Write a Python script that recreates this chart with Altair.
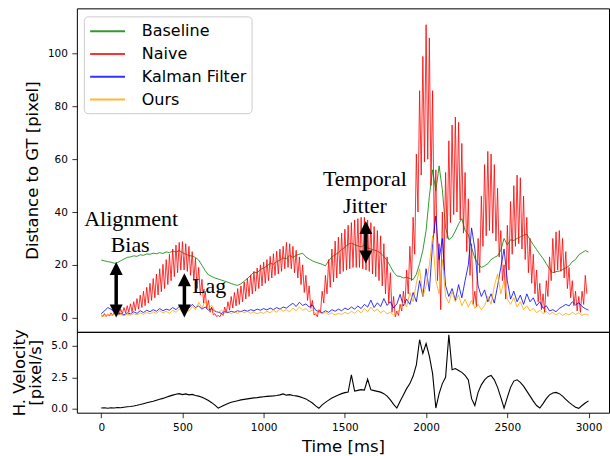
import altair as alt
import pandas as pd

# ---------------- data ----------------
series_names = ["Baseline", "Naive", "Kalman Filter", "Ours"]
series_colors = ["#008000", "#ff0000", "#0000ff", "#ffa500"]

step_ms = 20  # sampling step of the series below (ms)

baseline = [
    21.8, 21.5, 21.2, 21.0, 20.6, 20.8, 21.5, 22.2, 22.8, 23.0,
    23.4, 23.2, 23.8, 23.6, 24.1, 24.0, 24.4, 24.2, 24.6, 24.3,
    24.9, 24.6, 25.2, 24.8, 25.4, 24.6, 24.0, 23.5, 23.3, 22.8,
    21.8, 19.8, 17.8, 16.2, 15.6, 15.0, 14.6, 14.2, 13.8, 13.4,
    12.9, 12.5, 12.2, 12.8, 13.8, 14.8, 16.0, 17.2, 17.0, 18.2,
    18.8, 19.5, 20.6, 20.2, 21.2, 21.8, 22.6, 22.3, 23.5, 22.8,
    23.6, 24.0, 24.4, 23.0, 22.2, 21.5, 21.0, 20.6, 20.2, 19.6,
    21.5, 23.0, 23.8, 24.6, 25.8, 26.6, 27.8, 28.2, 27.6, 27.2,
    26.8, 27.5, 26.4, 26.0, 25.6, 25.2, 24.4, 23.2, 21.6, 19.4,
    17.2, 15.8, 15.6, 15.0, 15.3, 14.8, 14.4, 16.4, 20.5, 25.5,
    33.0, 46.0, 56.0, 48.0, 57.5, 48.5, 34.0, 29.5, 30.5, 32.8,
    35.5, 37.5, 33.0, 31.5, 26.5, 22.5, 20.4, 19.0, 19.6, 20.4,
    22.0, 22.8, 23.4, 25.5, 30.0, 27.5, 29.5, 29.2, 30.0, 30.6,
    31.2, 31.6, 29.5, 27.6, 25.8, 24.0, 22.4, 20.4, 18.4, 17.0,
    17.4, 17.6, 18.2, 18.8, 19.6, 21.2, 22.0, 23.8, 24.6, 25.4,
    24.8,
]

# Naive: frame-to-frame zig-zag; peaks at t = 0, 20, 40 ... and troughs at t = 10, 30, 50 ...
naive_peaks = [
    1.0, 1.5, 1.2, 1.8, 2.0, 2.5, 3.2, 3.8, 4.5, 5.2,
    6.0, 7.2, 8.5, 10.0, 11.5, 13.0, 14.8, 16.5, 18.5, 20.2,
    22.0, 24.0, 26.0, 27.5, 28.5, 28.8, 28.0, 27.0, 25.0, 22.5,
    19.0, 14.5, 10.0, 6.5, 4.0, 1.5, 0.8, 1.5, 4.0, 6.0,
    8.0, 9.5, 11.0, 12.0, 13.5, 15.0, 16.2, 17.5, 18.8, 20.0,
    21.0, 22.0, 23.2, 24.2, 25.2, 26.0, 27.0, 28.5, 28.0, 27.0,
    25.5, 23.0, 20.0, 16.0, 12.0, 6.5, 1.5, 3.0, 10.0, 16.0,
    22.0, 26.0, 29.0, 30.5, 32.0, 33.5, 35.0, 36.0, 37.0, 37.5,
    38.0, 38.0, 37.0, 36.0, 34.5, 33.0, 31.0, 28.0, 23.0, 17.0,
    8.0, 2.5, 5.0, 10.0, 18.0, 27.0, 38.0, 62.0, 86.0, 99.0,
    111.0, 106.0, 86.0, 56.0, 28.0, 40.0, 55.0, 67.0, 73.0, 76.0,
    74.0, 66.0, 55.0, 45.0, 28.0, 10.0, 30.0, 46.0, 58.0, 63.0,
    62.0, 58.0, 49.0, 33.0, 20.0, 35.0, 44.0, 50.0, 54.0, 53.0,
    46.0, 38.0, 30.0, 24.0, 18.0, 13.0, 9.0, 14.0, 23.0, 30.0,
    32.5, 33.0, 30.0, 25.0, 19.0, 14.0, 10.0, 8.0, 10.0, 16.0,
]
naive_troughs = [
    0.5, 0.4, 0.6, 0.8, 1.0, 1.2, 1.5, 1.8, 2.0, 2.2,
    2.6, 3.2, 3.8, 4.5, 5.5, 6.5, 7.5, 8.6, 9.8, 11.0,
    12.5, 14.0, 15.5, 17.0, 18.0, 18.0, 17.5, 16.0, 14.0, 11.0,
    8.5, 5.5, 3.5, 2.0, 1.0, 0.4, 0.3, 0.8, 1.8, 2.8,
    3.6, 4.4, 5.0, 6.0, 7.0, 8.0, 9.0, 10.0, 11.0, 12.0,
    13.0, 14.0, 15.0, 16.0, 16.5, 17.5, 18.5, 19.0, 18.5, 17.0,
    15.0, 12.5, 9.5, 6.5, 3.5, 1.0, 0.3, 2.0, 5.5, 9.0,
    11.5, 13.5, 15.0, 16.5, 17.5, 18.0, 18.5, 19.0, 19.0, 19.0,
    18.5, 18.0, 17.5, 16.5, 15.5, 14.0, 12.0, 9.0, 5.5, 2.0,
    0.3, 0.8, 2.5, 5.0, 9.0, 14.0, 24.0, 40.0, 54.0, 59.0,
    60.0, 50.0, 32.0, 14.0, 3.0, 18.0, 30.0, 36.0, 39.0, 40.0,
    37.0, 32.0, 25.0, 16.0, 5.0, 4.0, 17.0, 27.0, 31.0, 33.0,
    32.0, 29.0, 23.0, 14.0, 7.0, 18.0, 24.0, 27.0, 28.0, 26.0,
    22.0, 17.0, 13.0, 9.0, 6.0, 3.0, 2.0, 8.0, 14.0, 17.0,
    18.0, 17.5, 15.0, 11.0, 7.5, 4.5, 2.5, 2.0, 5.0, 9.0,
]

kalman = [
    1.5, 2.5, 3.8, 3.2, 2.0, 1.2, 1.6, 1.0, 1.8, 1.4,
    2.2, 1.6, 2.6, 1.9, 2.8, 2.2, 3.0, 2.4, 3.4, 2.6,
    3.2, 2.8, 3.8, 3.0, 4.2, 3.4, 4.6, 3.6, 5.0, 3.8,
    4.4, 3.2, 4.0, 2.8, 3.4, 2.4, 2.0, 1.6, 2.2, 1.8,
    2.4, 2.0, 2.6, 2.2, 2.8, 2.4, 3.0, 2.6, 3.2, 2.8,
    3.4, 2.9, 3.6, 3.0, 3.8, 3.2, 4.0, 3.6, 4.6, 5.4,
    4.2, 5.8, 4.6, 5.2, 4.0, 4.8, 2.8, 2.2, 1.8, 2.6,
    2.0, 3.0, 2.4, 3.2, 2.6, 3.6, 3.0, 4.0, 3.2, 4.4,
    3.4, 5.0, 4.0, 6.6, 3.8, 5.6, 4.2, 7.2, 4.6, 6.0,
    3.6, 5.2, 8.8, 4.4, 7.0, 5.0, 9.5, 6.0, 14.0, 8.0,
    18.5, 10.0, 28.0, 38.5, 22.0, 30.0, 12.0, 8.0, 11.0, 6.5,
    12.5, 7.5, 14.0, 20.0, 34.0, 26.0, 12.0, 8.0, 10.5, 6.0,
    9.0, 5.5, 12.0, 19.0, 26.0, 14.0, 7.0, 10.0, 6.0, 8.5,
    5.0, 9.0, 6.0, 7.5, 4.5, 6.0, 3.5, 4.5, 2.5, 3.0,
    2.2, 3.5, 4.2, 5.0, 4.4, 6.0, 4.8, 5.6, 4.2, 3.4,
    2.8,
]

ours = [
    0.3, 0.6, 1.2, 0.8, 1.4, 0.9, 1.2, 0.7, 1.3, 0.9,
    1.5, 1.0, 1.8, 1.2, 2.0, 1.4, 2.2, 1.6, 2.6, 1.8,
    2.4, 1.6, 2.8, 2.0, 3.2, 2.2, 3.6, 2.4, 4.2, 3.0,
    5.8, 3.6, 6.2, 3.4, 4.6, 2.6, 2.0, 2.8, 1.6, 2.4,
    1.4, 2.2, 1.6, 2.6, 1.8, 2.4, 1.6, 2.2, 1.4, 2.0,
    1.6, 2.4, 1.8, 2.8, 2.0, 3.4, 2.4, 3.0, 2.2, 3.6,
    2.6, 4.0, 2.8, 3.4, 2.2, 2.8, 1.6, 2.2, 1.4, 2.0,
    1.2, 1.8, 1.0, 1.6, 1.2, 2.0, 1.4, 2.4, 1.6, 2.8,
    1.8, 3.4, 2.2, 4.0, 2.4, 3.2, 1.8, 2.6, 1.4, 2.0,
    1.0, 1.6, 3.5, 6.0, 4.0, 9.5, 6.0, 13.0, 18.5, 8.0,
    12.0, 20.0, 31.0, 14.0, 9.0, 22.0, 8.0, 5.5, 10.0, 6.0,
    8.5, 4.5, 7.0, 4.0, 6.5, 3.5, 5.0, 3.0, 4.5, 8.0,
    5.0, 12.0, 16.5, 9.0, 14.0, 7.0, 5.0, 7.5, 4.0, 6.0,
    3.0, 4.5, 2.5, 3.5, 1.8, 2.8, 1.5, 2.4, 1.2, 2.0,
    1.0, 1.8, 0.8, 1.6, 1.0, 2.0, 1.2, 1.8, 0.8, 1.4,
    1.0,
]

velocity = [
    0.05, 0.08, 0.04, 0.07, 0.05, 0.09, 0.08, 0.12, 0.15, 0.18,
    0.22, 0.27, 0.33, 0.40, 0.47, 0.54, 0.60, 0.68, 0.75, 0.82,
    0.92, 1.00, 1.08, 1.15, 1.20, 1.12, 1.18, 1.10, 1.14, 1.05,
    1.00, 0.92, 0.80, 0.65, 0.48, 0.28, 0.04, 0.18, 0.30, 0.42,
    0.52, 0.58, 0.64, 0.70, 0.74, 0.78, 0.82, 0.86, 0.88, 0.92,
    0.95, 0.98, 1.00, 1.02, 1.05, 1.10, 1.18, 1.08, 1.12, 1.05,
    1.02, 0.96, 0.88, 0.78, 0.62, 0.45, 0.22, 0.03, 0.30, 0.50,
    0.68, 0.85, 0.98, 1.10, 1.20, 1.28, 1.32, 2.70, 1.40, 1.46,
    1.52, 1.48, 2.35, 1.50, 1.44, 1.38, 1.32, 1.20, 1.00, 0.70,
    0.35, 0.05, 0.60, 1.10, 1.60, 2.00, 2.60, 3.50, 5.50, 4.40,
    5.20, 4.20, 2.80, 0.05, 1.20, 2.00, 2.50, 5.90, 3.10, 3.20,
    3.05, 2.90, 2.65, 2.30, 0.80, 0.25, 1.30, 1.90, 2.30, 2.55,
    2.65, 2.30, 1.70, 0.90, 0.05, 0.90, 1.70, 2.20, 2.30, 2.10,
    1.80, 1.40, 1.00, 0.60, 0.25, 0.05, 0.40, 0.80, 1.10, 1.25,
    1.30, 1.20, 1.00, 0.75, 0.50, 0.30, 0.12, 0.03, 0.25, 0.45,
    0.62,
]

x_ticks = [0, 500, 1000, 1500, 2000, 2500, 3000]
dist_ticks = [0, 20, 40, 60, 80, 100]
vel_ticks = [0.0, 2.5, 5.0]

annot_text = ["Alignment", "Bias", "Lag", "Temporal", "Jitter"]
annot_t = [184, 178, 665, 1623, 1623]
annot_v = [34.7, 25.0, 9.5, 50.0, 39.8]

arrow_t = [92, 512, 1629]
arrow_lo = [0.0, 0.0, 20.5]
arrow_hi = [21.1, 16.8, 36.6]

# ---------------- tables ----------------
def series_frame(name, values):
    return pd.DataFrame({"t": [step_ms * i for i in range(len(values))],
                         "v": values, "series": name})

naive_t, naive_v = [], []
for i, (p, q) in enumerate(zip(naive_peaks, naive_troughs)):
    naive_t += [step_ms * i, step_ms * i + step_ms // 2]
    naive_v += [p, q]

frames = {
    "Baseline": series_frame("Baseline", baseline),
    "Naive": pd.DataFrame({"t": naive_t, "v": naive_v, "series": "Naive"}),
    "Kalman Filter": series_frame("Kalman Filter", kalman),
    "Ours": series_frame("Ours", ours),
}
vel_df = pd.DataFrame({"t": [step_ms * i for i in range(len(velocity))], "v": velocity})
annot_df = pd.DataFrame({"t": annot_t, "v": annot_v, "label": annot_text})
arrow_df = pd.DataFrame({"t": arrow_t, "lo": arrow_lo, "hi": arrow_hi})

# ---------------- encodings ----------------
W = 533
TOP_H = 324
BOT_H = 81
x_scale = alt.Scale(domain=[-150, 3126], nice=False, zero=False)
d_scale = alt.Scale(domain=[-5.4, 117.2], nice=False, zero=False)
v_scale = alt.Scale(domain=[-0.32, 6.13], nice=False, zero=False)

top_y_axis = alt.Axis(values=dist_ticks, format="d", title="Distance to GT [pixel]",
                      titleX=-44, titleY=TOP_H / 2, titleAngle=270, titleAlign="center",
                      titleBaseline="middle")
x_top = alt.X("t:Q", scale=x_scale, axis=None)

# legend line symbol: a 35px stroke drawn from a small legend "size" so rows stay compact
legend = alt.Legend(title=None, orient="none", legendX=7, legendY=8,
                    symbolType="M-1,0L3,0", symbolSize=306, symbolStrokeWidth=2,
                    symbolOpacity=0.8, labelFontSize=16, labelFont="DejaVu Sans",
                    labelColor="black", labelOffset=33, rowPadding=4.8, padding=5,
                    fillColor="white", strokeColor="#cccccc", cornerRadius=4)
color = alt.Color("series:N", scale=alt.Scale(domain=series_names, range=series_colors),
                  legend=legend)

layers = []
for name in series_names:
    layers.append(
        alt.Chart(frames[name]).mark_line(strokeWidth=1, opacity=0.8).encode(
            x=x_top,
            y=alt.Y("v:Q", scale=d_scale, axis=top_y_axis),
            color=color,
        )
    )

shafts = alt.Chart(arrow_df).mark_rule(color="black", strokeWidth=3.5, yOffset=6,
                                       y2Offset=-6).encode(
    x=x_top, y=alt.Y("hi:Q", scale=d_scale, axis=top_y_axis), y2="lo:Q")
heads_up = alt.Chart(arrow_df).mark_point(shape="M0,0L-1,2L1,2Z", size=169, filled=True,
                                          color="black", opacity=1).encode(
    x=x_top, y=alt.Y("hi:Q", scale=d_scale, axis=top_y_axis))
heads_down = alt.Chart(arrow_df).mark_point(shape="M0,0L-1,-2L1,-2Z", size=169, filled=True,
                                            color="black", opacity=1).encode(
    x=x_top, y=alt.Y("lo:Q", scale=d_scale, axis=top_y_axis))
texts = alt.Chart(annot_df).mark_text(font="Liberation Serif", fontSize=22, align="center",
                                      baseline="alphabetic", color="black").encode(
    x=x_top, y=alt.Y("v:Q", scale=d_scale, axis=top_y_axis), text="label:N")

top = alt.layer(*layers, shafts, heads_up, heads_down, texts).properties(
    width=W, height=TOP_H)

bottom = alt.Chart(vel_df).mark_line(color="black", strokeWidth=1.1).encode(
    x=alt.X("t:Q", scale=x_scale,
            axis=alt.Axis(values=x_ticks, format="d", title="Time [ms]",
                          labelPadding=4.5, titlePadding=6)),
    y=alt.Y("v:Q", scale=v_scale,
            axis=alt.Axis(values=vel_ticks, format=".1f", title=["H. Velocity", "[pixel/s]"],
                          titleX=-57, titleY=BOT_H / 2, titleAngle=270, titleAlign="center",
                          titleBaseline="middle", titleLineHeight=16)),
).properties(width=W, height=BOT_H)

chart = alt.vconcat(top, bottom, spacing=0, bounds="flush").resolve_legend(
    color="independent"
).properties(
    padding={"left": 11, "top": 7, "right": 0, "bottom": 0}
).configure_view(stroke="black", strokeWidth=1).configure_axis(
    grid=False, domain=False, tickColor="black", tickSize=5, tickWidth=0.8,
    labelFont="DejaVu Sans", labelFontSize=10.5, labelColor="black", labelPadding=4.5,
    titleFont="DejaVu Sans", titleFontSize=16.5, titleFontWeight="normal", titleColor="black",
).configure_concat(spacing=0)

chart.save("out.html", embed_options={"renderer": "svg", "actions": False})
